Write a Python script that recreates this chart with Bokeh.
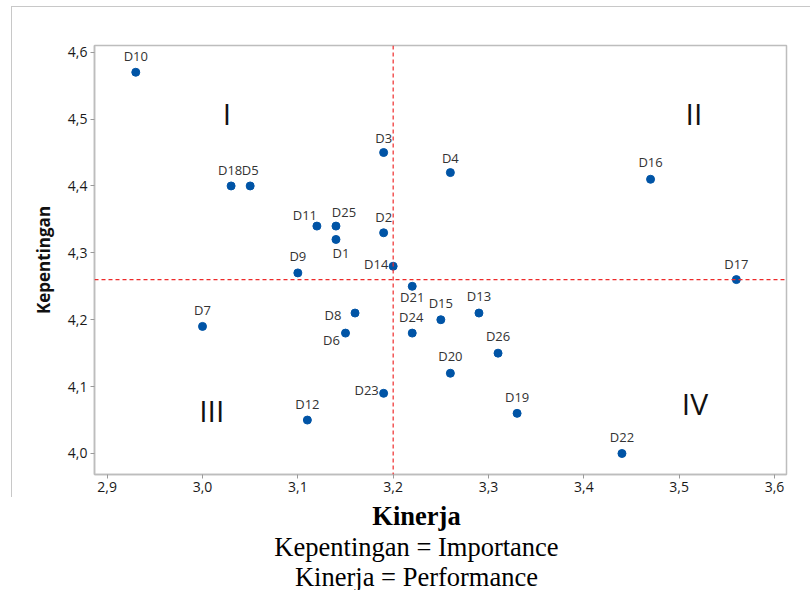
from bokeh.plotting import figure
from bokeh.layouts import column
from bokeh.models import ColumnDataSource, Range1d, FixedTicker, Span, Label
from bokeh.embed import file_html
from bokeh.resources import INLINE
from bokeh.core.properties import value

# ---------------- data ----------------
names = ["D1", "D2", "D3", "D4", "D5", "D6", "D7", "D8", "D9", "D10",
         "D11", "D12", "D13", "D14", "D15", "D16", "D17", "D18", "D19", "D20",
         "D21", "D22", "D23", "D24", "D25", "D26"]
kinerja = [3.14, 3.19, 3.19, 3.26, 3.05, 3.15, 3.00, 3.16, 3.10, 2.93,
           3.12, 3.11, 3.29, 3.20, 3.25, 3.47, 3.56, 3.03, 3.33, 3.26,
           3.22, 3.44, 3.19, 3.22, 3.14, 3.31]
kepentingan = [4.32, 4.33, 4.45, 4.42, 4.40, 4.18, 4.19, 4.21, 4.27, 4.57,
               4.34, 4.05, 4.21, 4.28, 4.20, 4.41, 4.26, 4.40, 4.06, 4.12,
               4.25, 4.00, 4.09, 4.18, 4.34, 4.15]

# reference lines (quadrant split)
x_split = 3.20
y_split = 4.26

x_ticks = [2.9, 3.0, 3.1, 3.2, 3.3, 3.4, 3.5, 3.6]
x_tick_labels = ["2,9", "3,0", "3,1", "3,2", "3,3", "3,4", "3,5", "3,6"]
y_ticks = [4.0, 4.1, 4.2, 4.3, 4.4, 4.5, 4.6]
y_tick_labels = ["4,0", "4,1", "4,2", "4,3", "4,4", "4,5", "4,6"]

quadrant_names = ["I", "II", "III", "IV"]

caption_lines = ["Kinerja", "Kepentingan = Importance", "Kinerja = Performance"]
caption_styles = ["bold", "normal", "normal"]

# label placement (screen-pixel offsets, style only)
lab_dx = [5, 0, 0, 0, 0, -14, 0, -22, 0, 0,
          -12, 0, 0, -17, 0, 0, 0, -1, 0, 0,
          0, 0, -17, -1, 8, 0]
lab_dy = [14, -16, -15, -15, -16, 7, -16, 2, -17, -16,
          -11, -16, -17, -2, -17, -17, -16, -16, -16, -17,
          11, -16, -3, -16, -14, -17]

# ---------------- main figure ----------------
p = figure(width=799, height=491, output_backend="svg", toolbar_location=None,
           x_range=Range1d(2.8867, 3.6126), y_range=Range1d(3.9686, 4.610),
           min_border_left=82, min_border_right=25, min_border_top=38,
           min_border_bottom=24, margin=(6, 0, 0, 11),
           styles={"border-left": "1px solid #c8c8c8", "border-top": "1px solid #c8c8c8"})

p.background_fill_color = "white"
p.border_fill_color = "white"
p.outline_line_color = "#bdbdbd"
p.outline_line_width = 1.5
p.grid.visible = False

for ax in (p.xaxis[0], p.yaxis[0]):
    ax.axis_line_color = "#bdbdbd"
    ax.axis_line_width = 1.5
    ax.major_tick_line_color = "#9a9a9a"
    ax.major_tick_in = 0
    ax.major_tick_out = 4
    ax.minor_tick_line_color = None
    ax.major_label_text_font = "Open Sans"
    ax.major_label_text_font_size = "14px"
    ax.major_label_text_color = "#1a1a1a"
    ax.major_label_standoff = 3

p.xaxis.ticker = FixedTicker(ticks=x_ticks)
p.xaxis.major_label_overrides = dict(zip(x_ticks, x_tick_labels))
p.yaxis.ticker = FixedTicker(ticks=y_ticks)
p.yaxis.major_label_overrides = dict(zip(y_ticks, y_tick_labels))

p.yaxis.axis_label = "Kepentingan"
p.yaxis.axis_label_text_font = "Open Sans"
p.yaxis.axis_label_text_font_style = "bold"
p.yaxis.axis_label_text_font_size = "17px"
p.yaxis.axis_label_text_color = "#111111"
p.yaxis.axis_label_standoff = 10

# reference lines
p.add_layout(Span(location=x_split, dimension="height", line_color="#ee2a2a",
                  line_width=1.2, line_dash="4 3"))
p.add_layout(Span(location=y_split, dimension="width", line_color="#ee2a2a",
                  line_width=1.2, line_dash="4 3"))

src = ColumnDataSource(dict(x=kinerja, y=kepentingan, name=names, dx=lab_dx, dy=lab_dy))
p.scatter("x", "y", source=src, size=8, marker="circle",
          fill_color="#0054a6", line_color="#0054a6")
p.text("x", "y", text="name", source=src, x_offset="dx", y_offset="dy",
       text_align="center", text_baseline="middle",
       text_font=value("Open Sans"), text_font_size="13px", text_color="#333333")

# quadrant numerals
quad_pos = [(3.0255, 4.509), (3.5155, 4.509), (3.0097, 4.065), (3.5165, 4.075)]
for qn, (qx, qy) in zip(quadrant_names, quad_pos):
    p.add_layout(Label(x=qx, y=qy, text=qn, text_align="center", text_baseline="middle",
                       text_font="Open Sans", text_font_size="30px", text_color="#111111"))

# ---------------- caption figure ----------------
# frame of this figure is aligned by the column with the chart's frame borders
cap_h = 93
c = figure(width=811, height=cap_h, output_backend="svg", toolbar_location=None,
           x_range=Range1d(82, 786), y_range=Range1d(cap_h, 0),
           x_axis_location=None, y_axis_location=None,
           min_border_left=0, min_border_right=0, min_border_top=0, min_border_bottom=0)
c.grid.visible = False
c.outline_line_color = None
c.background_fill_color = "white"
c.border_fill_color = "white"

cap_src = ColumnDataSource(dict(x=[416, 416, 416], y=[18.5, 49, 79],
                                text=caption_lines, style=caption_styles,
                                size=["26.5px", "26.5px", "26.5px"]))
c.text("x", "y", text="text", source=cap_src, text_align="center",
       text_baseline="alphabetic", text_font=value("Liberation Serif"),
       text_font_style="style", text_font_size="size", text_color="black")

layout = column(p, c, spacing=0)
open("out.html", "w").write(file_html(layout, INLINE))
